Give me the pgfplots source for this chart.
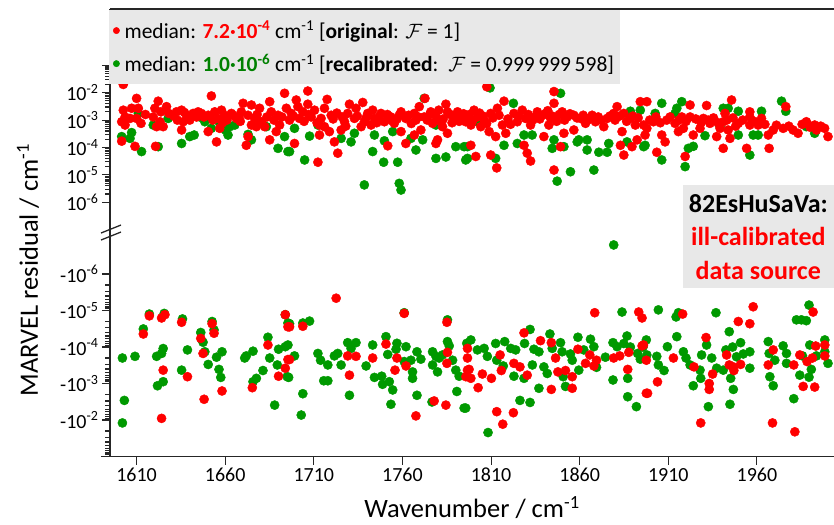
\documentclass[border=0pt]{standalone}
\usepackage{pgfplots}
\pgfplotsset{compat=1.18}
\usepackage{pgfplotstable}
\usepackage{fontspec}
\setmainfont{Carlito}
\definecolor{mred}{RGB}{255,0,0}
\definecolor{mgreen}{RGB}{0,153,0}
\definecolor{dgreen}{RGB}{0,128,0}
\definecolor{boxgray}{RGB}{232,232,232}

\pgfplotstableread{
wn r
1602.5 2.0e-2
1610.0 6.2e-3
1602.5 2.3e-3
1607.2 2.7e-3
1611.0 2.7e-3
1603.5 1.3e-3
1601.6 8.7e-4
1606.3 1.15e-3
1610.0 1.15e-3
1612.5 7.6e-4
1603.5 6.6e-4
1601.6 1.7e-4
1609.1 1.1e-4
1622.2 4.9e-3
1620.3 2.7e-3
1623.7 2.0e-3
1626.9 3.1e-3
1628.2 1.75e-3
1619.4 1.3e-3
1623.2 8.7e-4
1625.0 5.75e-4
1621.3 5.75e-4
1620.7 1.1e-4
1632.5 2.0e-3
1633.0 1.0e-3
1635.4 2.3e-3
1638.2 1.5e-3
1636.3 8.7e-4
1641.9 1.75e-3
1635.4 4.35e-4
1640.0 1.0e-3
1643.8 1.3e-3
1644.7 2.0e-3
1652.2 7.6e-3
1646.6 1.75e-3
1648.0 1.3e-3
1650.4 1.5e-3
1654.1 2.0e-3
1657.9 2.3e-3
1659.7 1.5e-3
1656.0 1.15e-3
1661.0 1.0e-3
1663.5 1.75e-3
1664.5 1.5e-3
1666.3 1.15e-3
1667.8 1.3e-3
1650.4 3.8e-4
1656.9 5.0e-4
1655.1 1.6e-4
1670.1 4.1e-3
1674.8 3.55e-3
1679.4 2.7e-3
1669.1 2.0e-3
1672.9 1.5e-3
1676.6 1.15e-3
1680.4 8.7e-4
1674.8 6.6e-4
1677.6 5.75e-4
1682.3 5.75e-4
1685.1 4.7e-3
1686.0 2.0e-3
1689.8 1.5e-3
1693.5 9.5e-3
1694.5 2.7e-3
1690.7 6.6e-4
1688.8 3.8e-4
1685.1 1.9e-4
1671.9 1.2e-4
1672.9 2.5e-4
1706.6 1.15e-2
1700.1 5.4e-3
1717.5 5.7e-3
1706.6 3.8e-3
1701.0 3.1e-3
1697.3 1.75e-3
1703.8 2.0e-3
1710.4 2.3e-3
1716.0 2.7e-3
1696.3 1.0e-3
1701.9 1.15e-3
1708.5 1.3e-3
1714.1 1.15e-3
1719.8 1.5e-3
1713.2 6.6e-4
1716.0 5.75e-4
1713.2 2.85e-4
1718.8 3.8e-4
1725.4 4.35e-4
1721.6 1.6e-4
1699.1 1.4e-4
1723.5 6.2e-5
1712.3 2.9e-5
1730.1 3.8e-3
1737.6 4.4e-3
1733.8 2.7e-3
1729.1 1.75e-3
1740.4 1.75e-3
1743.2 2.3e-3
1727.3 8.7e-4
1732.9 1.15e-3
1738.5 8.7e-4
1744.2 1.15e-3
1736.7 5.75e-4
1742.3 6.6e-4
1747.9 1.75e-3
1749.8 8.7e-4
1753.5 1.3e-3
1758.2 1.5e-3
1759.2 2.0e-3
1761.9 1.15e-3
1755.4 7.6e-4
1759.2 3.8e-4
1751.7 1.15e-4
1761.9 1.4e-4
1766.7 1.75e-3
1769.5 3.1e-3
1772.7 6.2e-3
1776.0 2.0e-3
1772.3 1.3e-3
1767.6 1.0e-3
1770.4 4.35e-4
1766.7 2.85e-4
1777.0 7.6e-4
1779.8 1.9e-4
1781.7 8.7e-4
1784.5 3.8e-3
1785.4 2.0e-3
1782.6 5.75e-4
1791.1 2.0e-3
1789.2 1.15e-3
1793.0 1.3e-3
1795.7 8.7e-4
1785.4 3.3e-4
1778.9 1.4e-4
1807.6 1.65e-2
1845.5 1.1e-2
1845.5 4.1e-3
1817.3 4.9e-3
1813.6 2.7e-3
1800.4 2.3e-3
1796.7 1.15e-3
1802.3 1.3e-3
1806.1 1.0e-3
1809.8 1.75e-3
1798.6 6.6e-4
1804.2 5.75e-4
1808.9 3.8e-4
1812.6 2.5e-4
1816.4 6.6e-4
1818.3 3.3e-4
1798.6 1.2e-4
1801.4 4.7e-5
1809.8 5.3e-5
1813.2 1.8e-5
1822.9 1.75e-3
1827.6 2.3e-3
1824.8 8.7e-4
1829.5 1.15e-3
1832.3 6.6e-4
1836.1 2.0e-3
1828.6 1.2e-4
1830.4 6.2e-5
1832.3 3.2e-5
1839.8 2.5e-4
1840.8 1.75e-3
1843.6 1.15e-3
1842.6 6.6e-4
1849.2 1.07e-4
1851.1 3.3e-4
1845.5 1.5e-5
1850.1 2.0e-3
1853.0 1.3e-3
1856.7 1.5e-3
1860.5 1.15e-3
1856.7 4.35e-4
1863.3 7.6e-4
1867.0 1.5e-3
1868.9 8.7e-4
1873.6 5.75e-4
1875.5 1.15e-3
1879.2 1.75e-3
1881.1 3.1e-3
1884.9 1.75e-3
1888.6 1.15e-3
1883.9 3.8e-4
1883.0 1.2e-4
1884.9 5.3e-5
1889.5 1.07e-4
1892.4 1.9e-4
1894.2 4.7e-3
1896.1 6.6e-4
1891.4 6.6e-4
1897.9 4.7e-3
1896.9 2.85e-4
1897.9 5.0e-4
1901.6 8.7e-4
1906.3 2.85e-4
1908.2 1.6e-4
1903.5 6.7e-5
1909.1 1.0e-3
1913.8 7.6e-4
1915.7 3.8e-4
1917.6 1.3e-3
1918.5 5.0e-4
1922.3 3.55e-3
1922.3 1.3e-3
1919.5 4.7e-5
1924.1 2.85e-4
1927.9 5.0e-4
1929.8 1.15e-3
1931.6 3.4e-3
1933.5 7.6e-4
1937.3 2.5e-4
1939.2 5.0e-4
1941.0 8.7e-4
1942.0 1.75e-3
1941.0 9.3e-5
1943.8 4.35e-4
1945.7 5.4e-3
1944.8 2.15e-4
1949.5 7.6e-4
1954.2 9.3e-5
1956.0 1.3e-3
1956.0 2.0e-3
1956.0 6.6e-4
1960.7 6.6e-4
1962.6 1.15e-3
1966.9 9.3e-5
1966.4 2.85e-4
1969.2 4.35e-4
1974.8 5.0e-4
1976.3 3.1e-3
1980.4 4.35e-4
1983.2 3.3e-4
1987.9 8.7e-4
1992.6 6.6e-4
1993.6 4.35e-4
1998.2 5.0e-4
2000.1 2.5e-4
1698.5 1.4e-3
1704.5 9.0e-4
1707.0 1.6e-3
1711.8 8.0e-4
1720.9 1.1e-3
1723.0 1.8e-3
1726.0 1.3e-3
1728.0 6.0e-4
1734.5 1.4e-3
1739.5 1.2e-3
1745.5 8.0e-4
1747.0 1.3e-3
1751.5 1.6e-3
1754.0 9.5e-4
1757.0 1.1e-3
1763.5 1.5e-3
1765.0 7.5e-4
1769.0 1.3e-3
1774.0 1.0e-3
1775.5 1.6e-3
1779.0 1.3e-3
1780.5 2.3e-3
1783.0 1.1e-3
1787.0 1.6e-3
1788.0 8.0e-4
1792.0 9.0e-4
1794.5 1.7e-3
1797.8 1.6e-3
1799.5 9.0e-4
1803.5 1.8e-3
1805.5 1.4e-3
1807.5 7.5e-4
1811.0 1.2e-3
1814.5 1.5e-3
1819.5 1.1e-3
1821.0 7.0e-4
1825.5 1.4e-3
1831.0 1.6e-3
1833.5 1.0e-3
1835.0 1.3e-3
1837.5 1.1e-3
1839.0 1.5e-3
1842.0 2.2e-3
1844.5 1.4e-3
1847.0 9.0e-4
1848.5 1.6e-3
1851.5 1.0e-3
1854.5 1.7e-3
1858.5 1.2e-3
1862.0 1.5e-3
1864.5 1.0e-3
1866.0 1.2e-3
1870.5 1.3e-3
1872.0 1.0e-3
1877.0 1.4e-3
1880.0 1.0e-3
1882.5 1.4e-3
1886.5 9.0e-4
1890.0 1.4e-3
1893.0 1.2e-3
1899.5 1.0e-3
1903.0 1.3e-3
1905.5 8.0e-4
1911.0 1.3e-3
1916.0 1.0e-3
1920.0 9.0e-4
1925.5 1.1e-3
1928.5 8.0e-4
1932.5 1.0e-3
1935.5 1.2e-3
1938.0 8.0e-4
1943.0 1.0e-3
1946.5 1.2e-3
1948.0 6.0e-4
1952.0 1.0e-3
1958.5 9.0e-4
1964.5 7.0e-4
1971.0 6.5e-4
1978.0 6.0e-4
1985.5 7.0e-4
1990.0 5.5e-4
1996.0 6.0e-4
1615.0 1.6e-3
1631.0 1.4e-3
1637.0 1.9e-3
1653.0 1.0e-3
1658.5 8.0e-4
1668.5 9.0e-4
1678.0 1.6e-3
1683.5 1.3e-3
1687.5 1.0e-3
1692.0 1.3e-3
}\topred

\pgfplotstableread{
wn r
1601.6 2.5e-4
1606.3 2.15e-4
1607.2 3.5e-4
1612.8 7.1e-5
1611.0 1.75e-3
1622.2 1.07e-4
1619.4 6.6e-4
1627.8 1.15e-3
1635.4 1.4e-4
1640.0 2.5e-4
1642.5 2.85e-4
1645.7 1.3e-3
1648.5 8.7e-4
1652.2 5.0e-4
1656.9 7.6e-4
1660.1 4.35e-4
1662.6 5.75e-4
1661.6 2.85e-4
1665.4 6.6e-4
1674.8 1.9e-4
1672.9 3.0e-4
1689.8 9.3e-5
1695.4 7.1e-5
1683.2 5.75e-4
1693.5 2.5e-4
1696.3 7.1e-5
1699.1 5.0e-4
1704.8 3.5e-5
1707.6 2.6e-4
1712.3 6.6e-4
1725.4 2.15e-4
1731.0 1.6e-4
1732.9 3.3e-4
1743.2 7.1e-5
1738.5 4.3e-6
1744.2 2.85e-4
1749.8 1.75e-4
1749.4 2.9e-5
1757.3 2.9e-5
1758.2 4.9e-6
1759.2 2.8e-6
1754.5 3.8e-4
1764.8 2.15e-4
1767.6 8.1e-5
1771.4 1.9e-4
1778.9 4.0e-5
1784.5 4.5e-5
1790.1 1.07e-4
1794.8 1.07e-4
1795.7 3.5e-5
1772.3 6.2e-3
1778.9 6.6e-4
1809.4 1.5e-2
1822.6 4.1e-3
1849.2 9.5e-3
1796.7 1.07e-4
1796.7 4.0e-5
1812.6 4.0e-5
1817.3 1.2e-4
1824.8 1.4e-4
1828.6 2.85e-4
1833.2 2.85e-4
1844.5 9.3e-5
1851.1 1.07e-4
1858.6 1.6e-4
1859.5 1.9e-4
1854.8 1.3e-5
1847.3 5.9e-6
1864.2 8.1e-5
1864.2 1.9e-4
1868.0 1.5e-5
1870.8 6.7e-5
1876.4 1.4e-4
1875.5 6.7e-5
1886.7 1.6e-4
1888.6 2.1e-3
1894.2 2.3e-3
1896.1 1.07e-4
1802.3 8.7e-4
1845.5 1.9e-4
1906.3 4.1e-3
1902.6 1.75e-3
1913.8 1.75e-3
1917.6 4.7e-3
1914.8 2.7e-3
1896.9 1.2e-4
1906.3 3.5e-5
1921.3 9.3e-5
1924.1 1.1e-4
1919.5 2.0e-5
1930.7 2.7e-4
1941.0 2.7e-3
1943.8 2.7e-3
1949.5 2.1e-3
1949.5 2.85e-4
1956.0 5.3e-5
1957.9 2.85e-4
1960.7 2.85e-4
1962.6 2.1e-3
1973.9 4.9e-3
1976.3 2.1e-3
1987.9 5.75e-4
1992.6 3.3e-4
1939.2 5.75e-4
}\topgreen

\pgfplotstableread{
wn r
1617.2 1.4e-5
1624.1 1.6e-5
1626.0 1.3e-5
1613.8 4.4e-5
1625.0 4.3e-4
1624.1 9.0e-3
1635.4 2.1e-5
1638.7 6.5e-4
1646.2 5.8e-5
1647.5 1.5e-4
1652.6 2.3e-5
1653.7 4.2e-5
1648.1 2.7e-3
1658.2 1.6e-3
1675.3 1.3e-3
1684.1 8.8e-5
1693.9 1.3e-5
1695.4 2.8e-5
1695.4 2.2e-4
1693.9 3.8e-4
1690.1 6.3e-4
1722.6 4.6e-6
1761.0 1.2e-5
1696.3 2.8e-5
1703.8 2.7e-5
1696.3 2.2e-4
1729.1 1.75e-4
1733.8 1.8e-4
1730.1 5.9e-4
1743.2 2.0e-4
1750.7 8.3e-5
1756.9 2.0e-4
1755.8 4.3e-4
1762.0 3.3e-4
1767.6 7.7e-3
1777.9 3.0e-3
1784.5 3.9e-3
1785.1 2.1e-5
1785.4 1.4e-4
1785.1 2.8e-4
1796.7 1.09e-4
1796.7 4.3e-4
1795.8 6.5e-4
1796.7 2.0e-4
1797.6 4.1e-4
1798.6 7.2e-4
1802.7 1.3e-3
1805.1 5.5e-4
1810.2 7.2e-4
1813.2 5.9e-3
1815.1 1.65e-4
1815.8 4.4e-4
1816.6 1.3e-2
1822.6 6.3e-3
1822.9 2.8e-4
1826.3 3.5e-4
1828.6 4.1e-5
1830.4 5.9e-4
1837.9 6.7e-5
1844.0 7.6e-5
1844.0 1.45e-3
1846.4 2.0e-4
1847.7 4.8e-4
1852.0 4.4e-4
1855.8 6.5e-4
1855.8 1.35e-3
1859.0 1.15e-4
1863.3 2.8e-4
1865.7 1.65e-4
1868.0 3.3e-4
1869.5 2.3e-4
1868.5 1.15e-5
1879.2 2.0e-4
1882.6 1.75e-4
1887.7 1.4e-4
1887.1 4.1e-4
1893.3 1.1e-5
1895.2 1.6e-5
1895.2 9.3e-5
1897.6 2.3e-4
1897.6 1.85e-3
1896.0 8.8e-5
1898.3 1.85e-3
1903.9 9.0e-4
1912.9 2.0e-4
1918.1 1.25e-5
1924.5 3.5e-4
1928.3 1.2e-2
1931.3 5.5e-5
1933.1 1.0e-3
1933.1 1.45e-3
1935.0 5.5e-4
1942.9 1.65e-4
1944.4 3.1e-4
1946.7 3.5e-4
1947.0 4.4e-4
1950.8 3.0e-4
1949.5 2.0e-5
1956.0 2.3e-5
1957.9 7.9e-6
1966.4 3.1e-4
1969.2 1.2e-4
1968.8 1.2e-2
1981.4 2.1e-2
1980.8 3.1e-4
1984.2 1.65e-4
1986.1 1.2e-3
1988.3 2.5e-4
1991.3 2.0e-4
1991.7 1.1e-5
1992.6 1.25e-3
1993.2 9.4e-5
1998.3 8.8e-5
1998.3 1.75e-4
}\botred

\pgfplotstableread{
wn r
1602.0 2.0e-4
1609.1 1.8e-4
1613.8 3.2e-5
1617.2 1.25e-5
1625.6 1.2e-5
1621.3 1.8e-4
1624.1 1.5e-4
1625.0 1.1e-4
1621.8 1.15e-3
1625.0 8.9e-4
1603.1 2.9e-3
1602.0 1.2e-2
1635.9 1.7e-5
1638.7 1.2e-4
1635.4 4.3e-4
1646.2 4.0e-5
1647.5 7.4e-5
1648.5 1.35e-4
1650.4 3.0e-4
1655.1 1.9e-4
1658.2 1.35e-4
1656.5 4.1e-4
1657.5 6.8e-4
1652.6 2.0e-5
1653.7 3.4e-5
1671.0 2.0e-4
1671.9 1.75e-4
1675.7 1.3e-4
1675.7 8.9e-4
1677.6 7.2e-4
1681.3 4.4e-4
1684.1 5.4e-5
1685.1 2.0e-4
1689.4 3.1e-4
1687.9 3.9e-3
1690.1 1.15e-4
1693.9 9.8e-5
1695.0 6.5e-4
1693.9 1.3e-5
1695.4 2.2e-5
1696.3 2.3e-5
1703.8 2.2e-5
1707.6 1.95e-5
1695.4 8.8e-5
1699.1 1.75e-4
1695.8 6.8e-4
1703.8 1.9e-3
1702.9 7.3e-3
1712.3 1.5e-4
1713.8 2.3e-4
1717.9 3.1e-4
1715.6 8.4e-4
1717.9 8.4e-4
1721.6 1.75e-4
1723.5 1.5e-4
1725.4 3.1e-4
1729.1 7.6e-5
1731.0 1.09e-4
1733.8 7.6e-5
1730.1 2.1e-3
1739.5 3.3e-4
1743.2 8.8e-5
1744.2 6.8e-4
1748.3 6.3e-4
1748.8 1.05e-3
1750.7 5.2e-5
1751.7 1.6e-4
1752.6 8.9e-4
1754.5 1.5e-3
1753.5 3.7e-3
1756.9 7.9e-5
1756.4 1.15e-4
1762.0 9.8e-5
1761.0 1.15e-5
1761.0 2.5e-4
1764.8 2.3e-4
1765.7 4.8e-4
1765.7 7.2e-4
1768.2 1.35e-4
1770.4 2.15e-4
1768.2 2.1e-3
1776.7 3.2e-3
1777.0 1.35e-4
1778.9 1.8e-4
1780.7 2.0e-4
1777.0 3.1e-4
1779.8 4.8e-4
1785.4 1.8e-5
1785.4 7.1e-5
1786.4 9.3e-5
1788.3 2.3e-4
1790.1 4.3e-4
1792.0 6.3e-4
1790.7 1.65e-3
1794.8 4.7e-3
1796.3 7.9e-5
1782.6 1.65e-4
1795.7 4.7e-3
1798.6 6.4e-5
1802.3 1.2e-4
1806.1 1.09e-4
1807.9 1.8e-4
1812.6 8.0e-5
1813.2 2.3e-4
1817.7 7.1e-5
1816.9 3.3e-4
1821.1 1.09e-4
1823.9 1.2e-4
1822.9 6.3e-4
1828.6 7.2e-4
1828.9 8.0e-5
1832.0 3.3e-5
1834.2 1.15e-4
1837.0 1.35e-4
1833.3 3.1e-4
1837.0 1.35e-3
1826.3 2.9e-3
1832.0 3.3e-3
1808.3 2.2e-2
1839.8 3.5e-4
1841.7 5.3e-4
1843.2 4.4e-5
1844.5 1.09e-4
1849.2 7.6e-5
1850.1 1.35e-4
1850.7 6.5e-4
1852.0 1.2e-3
1854.8 1.55e-4
1855.8 2.3e-4
1859.0 5.4e-5
1859.5 4.3e-4
1862.3 1.2e-4
1866.1 6.1e-5
1868.0 9.8e-5
1869.5 3.6e-4
1874.5 1.9e-4
1878.8 7.6e-5
1878.8 8.0e-4
1879.2 1.6e-7
1881.1 9.8e-5
1883.9 1.1e-5
1884.9 8.0e-5
1886.7 5.0e-5
1888.6 1.0e-4
1887.1 7.2e-4
1887.1 2.3e-3
1892.0 4.3e-3
1892.7 1.5e-4
1894.2 2.15e-4
1895.7 1.0e-4
1897.6 6.4e-5
1904.4 9.6e-6
1914.4 1.5e-5
1915.7 1.15e-5
1914.8 5.2e-5
1909.5 9.8e-5
1897.9 1.65e-4
1903.5 1.8e-4
1904.4 3.1e-4
1907.6 4.4e-4
1918.5 1.35e-4
1920.0 2.0e-4
1922.3 3.1e-4
1924.1 1.15e-3
1927.9 4.3e-4
1928.3 7.2e-4
1928.8 1.65e-4
1931.6 8.8e-5
1932.6 4.3e-3
1934.5 2.0e-4
1936.9 1.15e-5
1937.3 3.8e-4
1941.0 4.3e-4
1942.5 1.2e-4
1944.4 3.8e-5
1945.2 7.2e-4
1946.3 1.0e-4
1946.7 1.45e-3
1944.8 3.7e-3
1948.5 1.85e-4
1950.8 7.6e-5
1952.3 1.55e-4
1956.0 1.35e-4
1956.0 3.8e-4
1966.4 7.1e-5
1966.9 1.5e-4
1967.3 6.5e-4
1969.2 1.15e-3
1970.1 2.3e-4
1974.8 9.3e-5
1976.7 1.5e-4
1976.7 2.8e-4
1980.8 2.6e-3
1982.3 1.8e-5
1985.1 1.8e-5
1987.9 1.9e-5
1984.2 5.9e-4
1985.7 1.75e-4
1989.4 6.7e-4
1990.7 4.1e-4
1989.8 8.8e-5
1989.4 7.1e-6
1993.6 1.75e-4
1998.3 6.4e-5
1998.3 1.35e-4
2000.1 2.8e-4
}\botgreen

\begin{document}
\begin{tikzpicture}
\useasboundingbox (0,0) rectangle (834pt,-524pt);

% upper panel (positive residuals)
\begin{axis}[
  scale only axis, width=724pt, height=216pt,
  at={(110pt,-9pt)}, anchor=north west,
  xmin=1595, xmax=2003.5,
  ymode=log, ymin=1.48e-7, ymax=11.35,
  axis x line*=top, axis y line*=left,
  axis line style={line width=1.4pt, black!85, -},
  tick align=outside, major tick length=8pt, minor tick length=5pt,
  every tick/.style={black!85, line width=1.1pt},
  xtick=\empty,
  ytick={1e-6,1e-5,1e-4,1e-3,1e-2,1e-1},
  yticklabels={10\textsuperscript{-6},10\textsuperscript{-5},10\textsuperscript{-4},10\textsuperscript{-3},10\textsuperscript{-2},{}},
  minor ytick={2e-6,3e-6,4e-6,5e-6,6e-6,7e-6,8e-6,9e-6,
    2e-5,3e-5,4e-5,5e-5,6e-5,7e-5,8e-5,9e-5,
    2e-4,3e-4,4e-4,5e-4,6e-4,7e-4,8e-4,9e-4,
    2e-3,3e-3,4e-3,5e-3,6e-3,7e-3,8e-3,9e-3,
    2e-2,3e-2,4e-2,5e-2,6e-2,7e-2,8e-2,9e-2},
  yticklabel style={font=\fontsize{20}{24}\selectfont},
  reverse legend,
  legend cell align=left,
  legend image post style={mark size=3.2pt},
  legend style={at={(0,1)}, anchor=north west, xshift=-1pt, yshift=-1pt,
    fill=boxgray, draw=none, column sep=3pt,
    font=\fontsize{21.5}{26}\selectfont, row sep=10pt, inner xsep=4pt, inner ysep=9pt},
]
\addplot[only marks, mark=*, mark size=4.6pt, color=mgreen] table[x=wn, y=r] {\topgreen};
\addlegendentry{median: \textcolor{dgreen}{\textbf{1.0·10\textsuperscript{-6}}} cm\textsuperscript{-1} [\textbf{recalibrated}:\, $\mathcal{F}$ = 0.999\,999\,598]}
\addplot[only marks, mark=*, mark size=4.6pt, color=mred] table[x=wn, y=r] {\topred};
\addlegendentry{median: \textcolor{mred}{\textbf{7.2·10\textsuperscript{-4}}} cm\textsuperscript{-1} [\textbf{original}: $\mathcal{F}$ = 1]}
\end{axis}

% lower panel (negative residuals: magnitudes on a reversed log scale)
\begin{axis}[
  scale only axis, width=724pt, height=220.7pt,
  at={(110pt,-236pt)}, anchor=north west,
  xmin=1595, xmax=2003.5,
  ymode=log, ymin=9.1e-8, ymax=0.101,
  y dir=reverse,
  axis x line*=bottom, axis y line*=left,
  axis line style={line width=1.4pt, black!85, -},
  tick align=outside, major tick length=8pt, minor tick length=5pt,
  every tick/.style={black!85, line width=1.1pt},
  xtick={1610,1660,1710,1760,1810,1860,1910,1960},
  xticklabels={1610,1660,1710,1760,1810,1860,1910,1960},
  ytick={1e-6,1e-5,1e-4,1e-3,1e-2},
  yticklabels={-10\textsuperscript{-6},-10\textsuperscript{-5},-10\textsuperscript{-4},-10\textsuperscript{-3},-10\textsuperscript{-2}},
  minor ytick={2e-6,3e-6,4e-6,5e-6,6e-6,7e-6,8e-6,9e-6,
    2e-5,3e-5,4e-5,5e-5,6e-5,7e-5,8e-5,9e-5,
    2e-4,3e-4,4e-4,5e-4,6e-4,7e-4,8e-4,9e-4,
    2e-3,3e-3,4e-3,5e-3,6e-3,7e-3,8e-3,9e-3,
    2e-2,3e-2,4e-2,5e-2,6e-2,7e-2,8e-2,9e-2},
  yticklabel style={font=\fontsize{20}{24}\selectfont},
  xticklabel style={font=\fontsize{20}{24}\selectfont},
]
\addplot[only marks, mark=*, mark size=4.6pt, color=mgreen] table[x=wn, y=r] {\botgreen};
\addplot[only marks, mark=*, mark size=4.6pt, color=mred] table[x=wn, y=r] {\botred};
\end{axis}

% continuous spine across the break, break marks, x-axis stub
\draw[line width=1.4pt, black!85] (110pt,-224pt) -- (110pt,-237pt);
\draw[line width=1.3pt, black!85] (101pt,-233pt) -- (121pt,-225pt);
\draw[line width=1.3pt, black!85] (101pt,-240pt) -- (121pt,-232pt);
\draw[line width=1.4pt, black!85] (101pt,-456.7pt) -- (110pt,-456.7pt);

% annotation box
\node[fill=boxgray, anchor=north east, align=center, inner xsep=4pt, inner ysep=4pt,
  font=\fontsize{26}{33.5}\selectfont\bfseries, minimum width=151pt, minimum height=103pt]
  at (834pt,-185pt) {82EsHuSaVa:\\\textcolor{mred}{ill-calibrated}\\\textcolor{mred}{data source}};

% axis titles
\node[font=\fontsize{26.5}{30}\selectfont] at (472pt,-508pt) {Wavenumber / cm\textsuperscript{-1}};
\node[font=\fontsize{26.5}{30}\selectfont, rotate=90] at (28pt,-270pt) {MARVEL residual / cm\textsuperscript{-1}};
\end{tikzpicture}
\end{document}
